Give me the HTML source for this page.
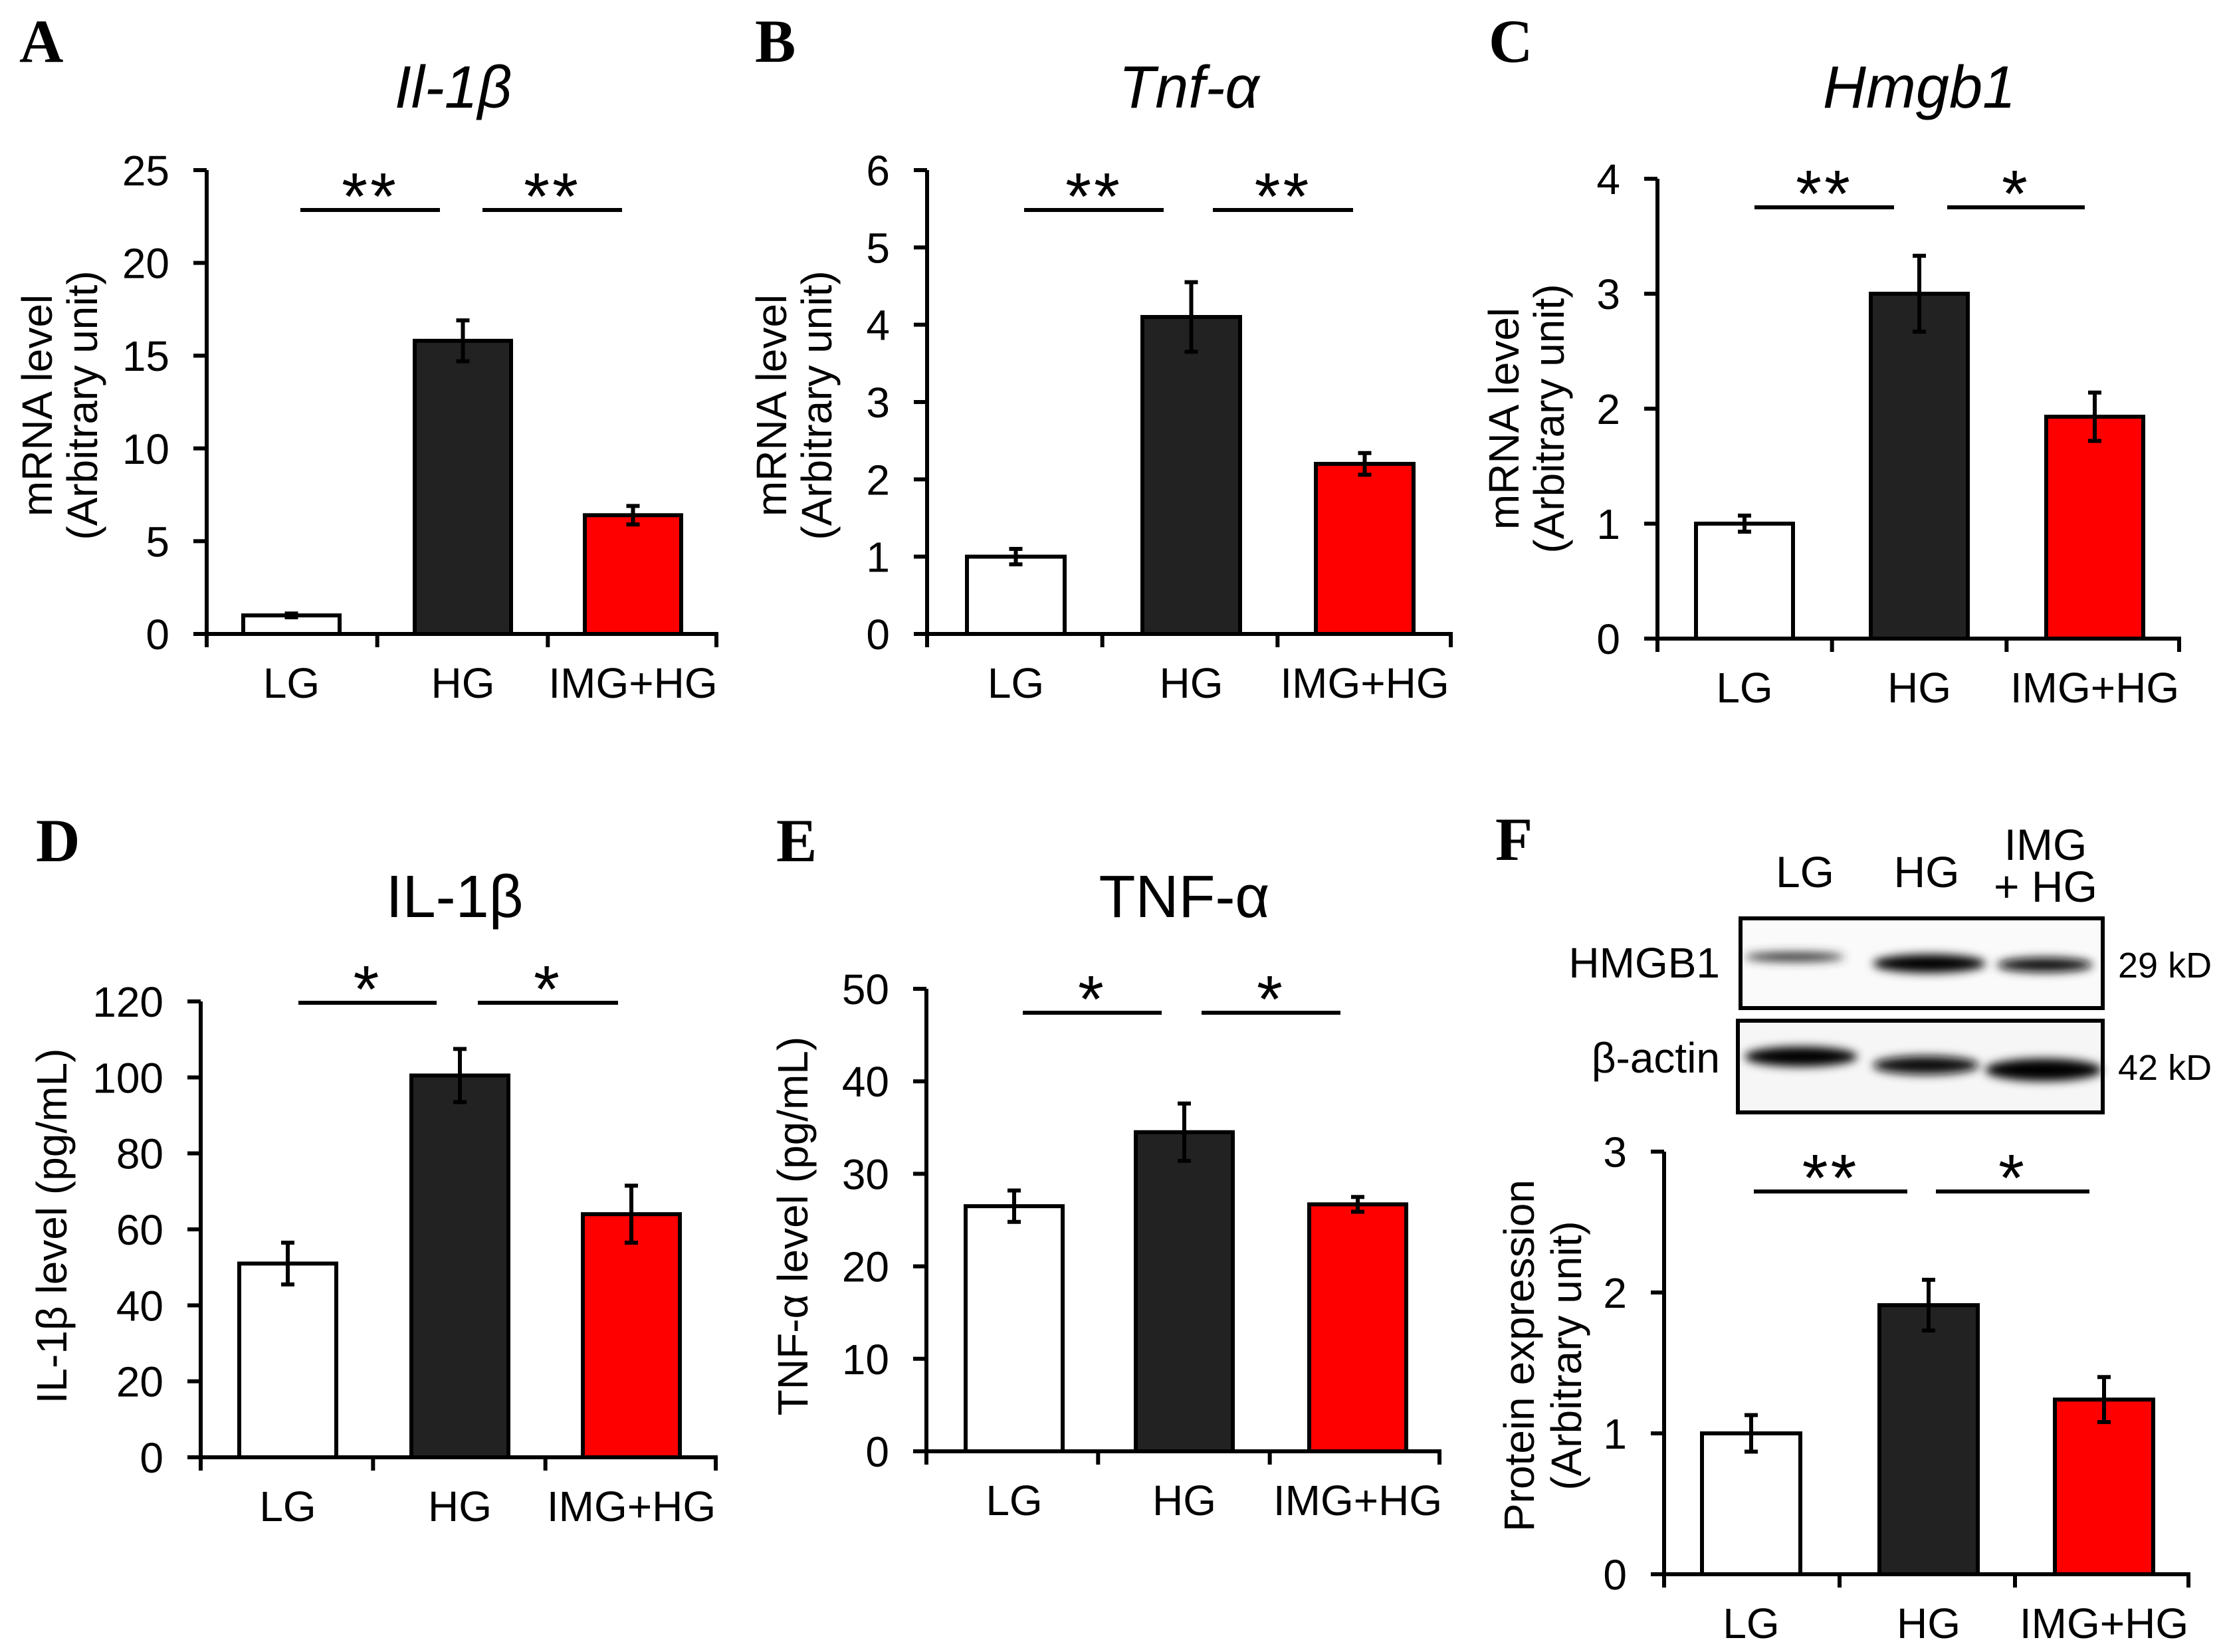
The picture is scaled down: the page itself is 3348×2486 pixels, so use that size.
<!DOCTYPE html>
<html><head><meta charset="utf-8"><style>
html,body{margin:0;padding:0;background:#fff;}
svg{display:block;}
text{font-family:"Liberation Sans",Arial,sans-serif;fill:#000;}
.letter{font-family:"Liberation Serif",serif;font-weight:bold;font-size:92px;}
</style></head><body>
<svg id="fig" width="3348" height="2486" viewBox="0 0 3348 2486" xmlns="http://www.w3.org/2000/svg">
<defs>
<filter id="blur" x="-20%" y="-50%" width="140%" height="200%"><feGaussianBlur stdDeviation="7"/></filter>
</defs>
<g id="blot">
<text x="2716" y="1335" font-size="66" text-anchor="middle">LG</text>
<text x="2899" y="1335" font-size="66" text-anchor="middle">HG</text>
<text x="3078" y="1294" font-size="66" text-anchor="middle">IMG</text>
<text x="3078" y="1357" font-size="66" text-anchor="middle">+ HG</text>
<text x="2588" y="1471" font-size="64" text-anchor="end">HMGB1</text>
<text x="2588" y="1614" font-size="64" text-anchor="end">β-actin</text>
<text x="3187" y="1471" font-size="54">29 kD</text>
<text x="3187" y="1625" font-size="54">42 kD</text>
<rect x="2619" y="1382" width="545" height="135" fill="#fafafa" stroke="#000" stroke-width="6"/>
<rect x="2615" y="1536" width="549" height="138" fill="#f6f6f6" stroke="#000" stroke-width="6"/>
<g filter="url(#blur)">
<ellipse cx="2700" cy="1440" rx="75" ry="7" fill="#333"/>
<ellipse cx="2903" cy="1450" rx="85" ry="14" fill="#000"/>
<ellipse cx="3077" cy="1452" rx="72" ry="11" fill="#111"/>
<ellipse cx="2710" cy="1590" rx="85" ry="15" fill="#000"/>
<ellipse cx="2898" cy="1603" rx="80" ry="14" fill="#111"/>
<ellipse cx="3075" cy="1610" rx="88" ry="17" fill="#000"/>
</g>
</g>
</svg>
<script>
const categories = ["LG", "HG", "IMG+HG"];
const aValues = [1.0, 15.8, 6.4];
const aErrors = [0.1, 1.1, 0.5];
const aTicks = [0, 5, 10, 15, 20, 25];
const bValues = [1.0, 4.1, 2.2];
const bErrors = [0.1, 0.45, 0.14];
const bTicks = [0, 1, 2, 3, 4, 5, 6];
const cValues = [1.0, 3.0, 1.93];
const cErrors = [0.07, 0.33, 0.21];
const cTicks = [0, 1, 2, 3, 4];
const dValues = [51, 100.5, 64];
const dErrors = [5.5, 7, 7.5];
const dTicks = [0, 20, 40, 60, 80, 100, 120];
const eValues = [26.5, 34.5, 26.7];
const eErrors = [1.7, 3.1, 0.8];
const eTicks = [0, 10, 20, 30, 40, 50];
const fValues = [1.0, 1.91, 1.24];
const fErrors = [0.13, 0.18, 0.16];
const fTicks = [0, 1, 2, 3];
const aSig = ["**", "**"];
const bSig = ["**", "**"];
const cSig = ["**", "*"];
const dSig = ["*", "*"];
const eSig = ["*", "*"];
const fSig = ["**", "*"];

const NS = "http://www.w3.org/2000/svg";
const svg = document.getElementById("fig");
const fills = ["#ffffff", "#222222", "#ff0000"];
function mk(tag, attrs, parent, txt) {
  const e = document.createElementNS(NS, tag);
  for (const k in attrs) e.setAttribute(k, attrs[k]);
  if (txt !== undefined) e.textContent = txt;
  parent.appendChild(e);
  return e;
}
function panel(p) {
  const g = mk("g", {}, svg);
  
  
  const max = p.ticks[p.ticks.length - 1];
  const y = v => p.base - (p.base - p.top) * v / max;
  const L = mk("text", {x: p.lx, y: p.ly, class: "letter"}, g, p.id.toUpperCase());
  
  
  if (p.title) {
    const T = mk("text", {x: p.tx, y: p.ty, "font-size": 90, "text-anchor": "middle", "font-style": p.italic ? "italic" : "normal"}, g, p.title);
    
    
  }
  p.ylab.forEach((s, i) => {
    const t = mk("text", {x: 0, y: 0, "font-size": 64, "text-anchor": "middle", "dominant-baseline": "central",
      transform: `translate(${p.ylx[i]},${p.yly}) rotate(-90)`}, g, s);
    
    
  });
  p.values.forEach((v, i) => {
    const x0 = p.bx[i], w = p.bw;
    const r = mk("rect", {x: x0, y: y(v), width: w, height: p.base - y(v), fill: fills[i], stroke: "#000", "stroke-width": 6}, g);
    
    
    const cx = x0 + w / 2, e = p.errors[i];
    const eb = mk("path", {d: `M${cx},${y(v + e)}V${y(v - e)}M${cx - 10},${y(v + e)}H${cx + 10}M${cx - 10},${y(v - e)}H${cx + 10}`,
      stroke: "#000", "stroke-width": 6, fill: "none"}, g);
    
    
    const cl = mk("text", {x: cx, y: p.base + 96, "font-size": 64, "text-anchor": "middle"}, g, categories[i]);
    
    
  });
  const ya = mk("path", {d: `M${p.ax},${p.top}V${p.base}`, stroke: "#000", "stroke-width": 6}, g);
  
  
  const xa = mk("path", {d: `M${p.ax - 20},${p.base}H${p.xend}`, stroke: "#000", "stroke-width": 6}, g);
  
  
  for (let k = 0; k <= 3; k++) {
    const xx = p.ax + (p.xend - p.ax) * k / 3 + (k === 3 ? -3 : 0);
    const tk = mk("path", {d: `M${xx},${p.base}V${p.base + 20}`, stroke: "#000", "stroke-width": 6}, g);
    
    
  }
  p.ticks.forEach(t => {
    const tk = mk("path", {d: `M${p.ax - 20},${y(t)}H${p.ax}`, stroke: "#000", "stroke-width": 6}, g);
    
    
    const tl = mk("text", {x: p.ax - 56, y: y(t) + 23, "font-size": 64, "text-anchor": "end"}, g, String(t));
    
    
  });
  p.sig.forEach((s, i) => {
    const [x1, x2] = p.sx[i];
    const ln = mk("path", {d: `M${x1},${p.sy}H${x2}`, stroke: "#000", "stroke-width": 6}, g);
    
    
    const st = mk("text", {x: (x1 + x2) / 2, y: p.sy + 14, "font-size": 100, "text-anchor": "middle", "letter-spacing": 4}, g, s);
    
    
  });
}
panel({id: "a", values: aValues, errors: aErrors, ticks: aTicks, sig: aSig, ax: 311, top: 256, base: 954, xend: 1081,
  bx: [366, 624, 880], bw: 145, sx: [[452, 662], [726, 936]], sy: 316, lx: 29, ly: 93, title: "Il-1β", italic: true, tx: 682, ty: 162,
  ylab: ["mRNA level", "(Arbitrary unit)"], ylx: [56, 124], yly: 610});
panel({id: "b", values: bValues, errors: bErrors, ticks: bTicks, sig: bSig, ax: 1395, top: 256, base: 954, xend: 2186,
  bx: [1455, 1719, 1980], bw: 147, sx: [[1541, 1751], [1825, 2036]], sy: 316, lx: 1136, ly: 93, title: "Tnf-α", italic: true, tx: 1789, ty: 162,
  ylab: ["mRNA level", "(Arbitrary unit)"], ylx: [1161, 1229], yly: 610});
panel({id: "c", values: cValues, errors: cErrors, ticks: cTicks, sig: cSig, ax: 2494, top: 269, base: 961, xend: 3282,
  bx: [2552, 2815, 3079], bw: 146, sx: [[2640, 2850], [2930, 3137]], sy: 312, lx: 2240, ly: 93, title: "Hmgb1", italic: true, tx: 2888, ty: 162,
  ylab: ["mRNA level", "(Arbitrary unit)"], ylx: [2263, 2331], yly: 630});
panel({id: "d", values: dValues, errors: dErrors, ticks: dTicks, sig: dSig, ax: 302, top: 1507, base: 2193, xend: 1080,
  bx: [360, 619, 877], bw: 146, sx: [[449, 657], [719, 930]], sy: 1509, lx: 54, ly: 1296, title: "IL-1β", italic: false, tx: 684, ty: 1380,
  ylab: ["IL-1β level (pg/mL)"], ylx: [78], yly: 1845});
panel({id: "e", values: eValues, errors: eErrors, ticks: eTicks, sig: eSig, ax: 1394, top: 1488, base: 2184, xend: 2169,
  bx: [1453, 1709, 1970], bw: 146, sx: [[1539, 1748], [1808, 2017]], sy: 1524, lx: 1168, ly: 1296, title: "TNF-α", italic: false, tx: 1782, ty: 1380,
  ylab: ["TNF-α level (pg/mL)"], ylx: [1193], yly: 1845});
panel({id: "f", values: fValues, errors: fErrors, ticks: fTicks, sig: fSig, ax: 2504, top: 1733, base: 2369, xend: 3296,
  bx: [2561, 2828, 3092], bw: 148, sx: [[2639, 2870], [2913, 3144]], sy: 1793, lx: 2250, ly: 1294, title: null,
  ylab: ["Protein expression", "(Arbitrary unit)"], ylx: [2286, 2357], yly: 2040});
</script>
</body></html>
